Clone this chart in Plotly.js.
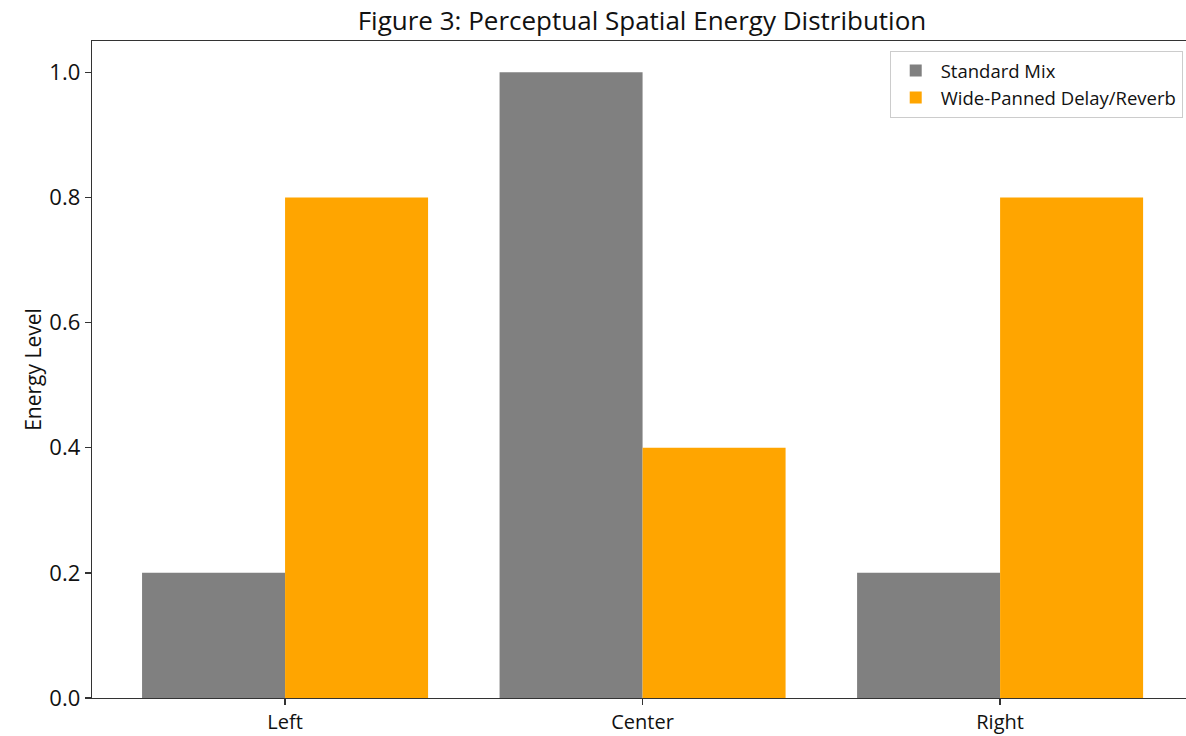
<!DOCTYPE html>
<html>
<head>
<meta charset="utf-8">
<script src="https://cdn.plot.ly/plotly-3.0.1.min.js"></script>
<style>html,body{margin:0;padding:0;overflow:hidden;background:#fff}</style>
</head>
<body>
<div id="chart" style="width:1186px;height:736px"></div>
<script>
const categories = ["Left", "Center", "Right"];
const standardMix = [0.2, 1.0, 0.2];
const widePanned = [0.8, 0.4, 0.8];
const seriesNames = ["Standard Mix", "Wide-Panned Delay/Reverb"];
const yTicks = [0.0, 0.2, 0.4, 0.6, 0.8, 1.0];

const FONT = "'Open Sans', Roboto, sans-serif";
const traces = [
  {type: "bar", name: seriesNames[0], x: [0, 1, 2], y: standardMix, marker: {color: "#808080"}},
  {type: "bar", name: seriesNames[1], x: [0, 1, 2], y: widePanned, marker: {color: "#FFA500"}}
];
const layout = {
  width: 1186, height: 736,
  margin: {l: 92, r: 0, t: 41, b: 38, pad: 0},
  paper_bgcolor: "#fff", plot_bgcolor: "#fff",
  font: {family: FONT, color: "#111", size: 20},
  title: {text: "Figure 3: Perceptual Spatial Energy Distribution", x: 0.5413, xanchor: "center", y: 0.972, yanchor: "middle", font: {size: 26, family: FONT, color: "#111"}},
  barmode: "group", bargap: 0.2, bargroupgap: 0,
  showlegend: true,
  legend: {x: 0.997, y: 0.985, xanchor: "right", yanchor: "top", bgcolor: "rgba(255,255,255,0.8)", bordercolor: "#cccccc", borderwidth: 1, font: {size: 18.5, family: FONT, color: "#111"}, traceorder: "normal", itemwidth: 40, tracegroupgap: 2},
  xaxis: {range: [-0.54, 2.52], tickmode: "array", tickvals: [0, 1, 2], ticktext: categories, showgrid: false, zeroline: false, showline: true, linecolor: "#333", linewidth: 1.3, mirror: true, ticks: "outside", ticklen: 6, tickwidth: 1.3, tickcolor: "#333", tickfont: {size: 20, family: FONT, color: "#111"}, ticklabelstandoff: 0},
  yaxis: {range: [0, 1.05], tickmode: "array", tickvals: yTicks, ticktext: yTicks.map(v => v.toFixed(1)), showgrid: false, zeroline: false, showline: true, linecolor: "#333", linewidth: 1.3, mirror: false, ticks: "outside", ticklen: 6, tickwidth: 1.3, tickcolor: "#333", tickfont: {size: 22, family: FONT, color: "#111"}, title: {text: "Energy Level", font: {size: 21, family: FONT, color: "#111"}, standoff: 2}}
};
Plotly.newPlot("chart", traces, layout, {displayModeBar: false, staticPlot: true});
</script>
</body>
</html>
